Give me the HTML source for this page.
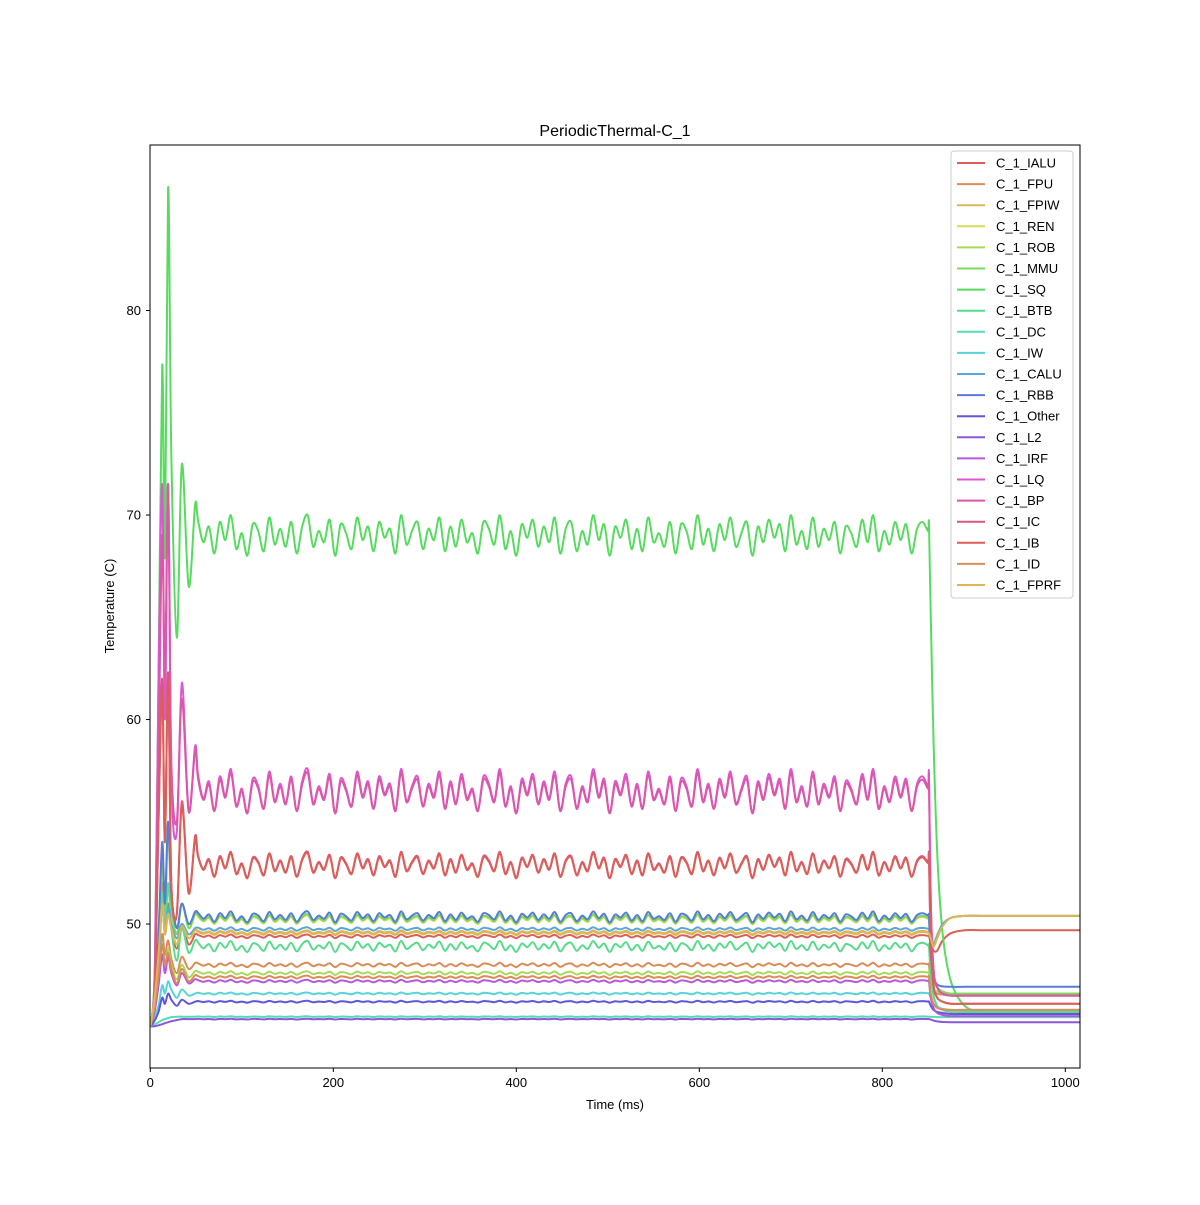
<!DOCTYPE html>
<html><head><meta charset="utf-8"><style>
body{margin:0;background:#fff}
svg text{font-family:"Liberation Sans","DejaVu Sans",sans-serif;fill:#000}
</style></head><body>
<svg id="chart" width="1200" height="1200" viewBox="0 0 1200 1200" xmlns="http://www.w3.org/2000/svg">
<rect width="1200" height="1200" fill="#fff"/>
<defs><clipPath id="pc"><rect x="150" y="145" width="930" height="923"/></clipPath></defs>
<text x="615" y="136" font-size="16" text-anchor="middle">PeriodicThermal-C_1</text>
<g id="series" clip-path="url(#pc)"></g>
<rect x="150" y="145" width="930" height="923" fill="none" stroke="#000" stroke-width="1"/>
<g id="axes"></g>
<text x="615" y="1109" font-size="13" text-anchor="middle">Time (ms)</text>
<text x="114" y="606" font-size="13" text-anchor="middle" transform="rotate(-90 114 606)">Temperature (C)</text>
<g id="legend"></g>
</svg>
<script>
const names=["C_1_IALU","C_1_FPU","C_1_FPIW","C_1_REN","C_1_ROB","C_1_MMU","C_1_SQ","C_1_BTB","C_1_DC","C_1_IW","C_1_CALU","C_1_RBB","C_1_Other","C_1_L2","C_1_IRF","C_1_LQ","C_1_BP","C_1_IC","C_1_IB","C_1_ID","C_1_FPRF"];
const xTicks=[0,200,400,600,800,1000];
const yTicks=[50,60,70,80];
const earlyT=[0,5,9,13,16,19.5,23,29,34.5,42,49];
const early=[
[45,46,48,52,49.5,51,49.8,48.8,49.9,49.0,49.5],
[45,46,47.5,49.5,48.5,49.2,48.3,47.6,48.4,47.8,48.1],
[45,46.5,48.5,51,49.5,50.5,49.8,49.0,49.9,49.3,49.7],
[45,46.5,49,53,50.5,54.5,51,49.5,51,49.8,50.5],
[45,46,47.5,49,48,48.8,48,47.3,48,47.4,47.7],
[45,46.5,49,53,50.5,55,51,49.5,51,49.8,50.5],
[45,48,62,77.3,68,86,73,64,72.5,66.5,70.5],
[45,46,48,51.5,49.5,52,49.8,48.2,49.8,48.6,49.2],
[45,45.1,45.2,45.3,45.35,45.4,45.45,45.47,45.47,45.47,45.47],
[45,45.5,46,47,46.6,47.2,46.8,46.4,46.8,46.5,46.6],
[45,46,48,51,49.5,50.8,50,49.3,50,49.5,49.8],
[45,46.5,49.5,54,51,55,51.5,49.8,51,50,50.6],
[45,45.3,45.7,46.4,46.1,46.6,46.3,46,46.3,46.1,46.2],
[45,45,45.05,45.1,45.15,45.2,45.25,45.3,45.35,45.35,45.35],
[45,45.8,47,48.5,47.6,48.4,47.6,47,47.6,47.1,47.3],
[45,48,62,71.5,60,71.5,57,54.5,61.8,55.5,58.7],
[45,47,58,69,62,71.5,58,55,61,55.5,58.5],
[45,47,55,62,54,62.3,52,50.5,56,51.5,54.3],
[45,47,55,61.5,54,62,52,50.5,55.8,51.5,54.2],
[45,46,47.5,49,48,48.6,47.8,47.1,47.8,47.2,47.5],
[45,46.5,48.5,51,49.5,50.5,49.8,49.0,49.9,49.3,49.7]];
const steady=[49.4,48.0,49.6,50.2,47.6,50.25,69.0,48.9,45.47,46.6,49.75,50.35,46.2,45.35,47.2,56.5,56.4,52.9,52.85,47.4,49.55];
const amp=[0.1,0.12,0.1,0.25,0.1,0.25,1.1,0.3,0.02,0.06,0.1,0.3,0.05,0.02,0.08,1.2,1.1,0.7,0.68,0.08,0.1];
const osc=[0.7,-0.3,0.4,-0.8,0.6,-0.2,0.9,-0.6,0.1,-0.9,
0.5,0.2,-0.7,0.8,-0.4,0.3,-0.5,0.6,-0.8,0.4,
0.9,-0.5,0.2,-0.3,0.7,-0.9,0.5,0.1,-0.6,0.8,
-0.2,0.4,-0.7,0.6,-0.1,0.3,-0.8,0.9,-0.4,0.2,
0.6,-0.6,0.3,-0.2,0.8,-0.7,0.4,-0.5,0.7,-0.3,
0.1,-0.8,0.6,0.3,-0.4,0.9,-0.6,0.2,-0.9,0.5,
-0.1,0.7,-0.5,0.4,-0.3,0.8,-0.8,0.3,0.6,-0.7,
0.2,-0.4,0.9,-0.2,0.5,-0.9,0.4,-0.1,0.7,-0.6,
0.3,-0.7,0.8,-0.3,0.1,-0.5,0.6,-0.8,0.5,0.2,
-0.6,0.9,-0.4,0.3,-0.7,0.5,-0.2,0.8,-0.5,0.1,
0.6,-0.9,0.4,-0.3,0.7,-0.1,0.5,-0.7,0.9,-0.4,
0.2,-0.6,0.8,-0.5,0.3,-0.2,0.6,-0.8,0.4,0.1,
-0.5,0.7,-0.3,0.9,-0.7,0.2,-0.4,0.6,-0.2,0.5,
-0.8,0.3,0.6,0.2];
const postT=[851,853,856,860,866,875,890,910,940,1016];
const post=[
[49.4,49.1,48.7,48.7,49.2,49.55,49.7,49.7,49.7,49.7],
[48.0,47.2,46.8,46.6,46.55,46.5,46.5,46.5,46.5,46.5],
[49.6,49.3,48.9,49.3,49.9,50.3,50.4,50.4,50.4,50.4],
[50.2,49.6,49.1,49.5,50.0,50.3,50.4,50.4,50.4,50.4],
[47.6,47.1,46.8,46.7,46.65,46.6,46.6,46.6,46.6,46.6],
[50.2,48.5,47.3,46.9,46.7,46.6,46.6,46.6,46.6,46.6],
[69.5,65,59,53.5,49.5,47.2,46.0,45.7,45.6,45.6],
[48.9,47.5,46.5,46.0,45.8,45.7,45.7,45.7,45.7,45.7],
[45.47,45.47,45.46,45.45,45.45,45.45,45.45,45.45,45.45,45.45],
[46.6,46.4,46.1,45.95,45.85,45.8,45.8,45.8,45.8,45.8],
[49.75,49.4,49.0,49.4,50.0,50.3,50.4,50.4,50.4,50.4],
[50.35,48.5,47.4,47.05,46.95,46.93,46.93,46.93,46.93,46.93],
[46.2,46.0,45.8,45.7,45.65,45.6,45.6,45.6,45.6,45.6],
[45.35,45.33,45.28,45.24,45.21,45.2,45.2,45.2,45.2,45.2],
[47.2,46.4,45.9,45.65,45.55,45.5,45.5,45.5,45.5,45.5],
[57.2,51,47.8,46.9,46.6,46.5,46.5,46.5,46.5,46.5],
[57.0,51,47.8,46.9,46.6,46.5,46.5,46.5,46.5,46.5],
[53.3,49,47,46.4,46.2,46.1,46.1,46.1,46.1,46.1],
[53.2,49,47,46.4,46.2,46.1,46.1,46.1,46.1,46.1],
[47.4,46.6,46.1,45.9,45.82,45.8,45.8,45.8,45.8,45.8],
[49.55,49.3,48.9,49.3,49.9,50.3,50.4,50.4,50.4,50.4]];
const NS="http://www.w3.org/2000/svg";
const xS=t=>150.3+t*0.915;
const yS=v=>1068-(v-42.96)*20.45;
function col(i){return "hsl("+((3.6+i*20)%360)+",65%,60%)";}
function smooth(P){
  let d='M'+P[0][0].toFixed(1)+','+P[0][1].toFixed(1);
  for(let i=0;i<P.length-1;i++){
    const p0=P[Math.max(0,i-1)],p1=P[i],p2=P[i+1],p3=P[Math.min(P.length-1,i+2)];
    const c1x=p1[0]+(p2[0]-p0[0])/6,c1y=p1[1]+(p2[1]-p0[1])/6;
    const c2x=p2[0]-(p3[0]-p1[0])/6,c2y=p2[1]-(p3[1]-p1[1])/6;
    d+='C'+c1x.toFixed(1)+','+c1y.toFixed(1)+' '+c2x.toFixed(1)+','+c2y.toFixed(1)+' '+p2[0].toFixed(1)+','+p2[1].toFixed(1);
  }
  return d;
}
const sg=document.getElementById('series');
names.forEach((n,i)=>{
  const pts=[];
  earlyT.forEach((t,k)=>pts.push([t,early[i][k]]));
  osc.forEach((o,k)=>pts.push([52+6*k,steady[i]+amp[i]*o]));
  postT.forEach((t,k)=>pts.push([t,post[i][k]]));
  const p=document.createElementNS(NS,'path');
  p.setAttribute('d',smooth(pts.map(q=>[xS(q[0]),yS(q[1])])));
  p.setAttribute('fill','none');p.setAttribute('stroke',col(i%18));p.setAttribute('stroke-width','2');p.setAttribute('stroke-linejoin','round');
  
  
  sg.appendChild(p);
});
const ax=document.getElementById('axes');
xTicks.forEach(t=>{
  const l=document.createElementNS(NS,'line');
  l.setAttribute('x1',xS(t));l.setAttribute('x2',xS(t));l.setAttribute('y1',1068);l.setAttribute('y2',1072);l.setAttribute('stroke','#000');
  
  
  ax.appendChild(l);
  const tx=document.createElementNS(NS,'text');
  tx.setAttribute('x',xS(t));tx.setAttribute('y',1087);tx.setAttribute('font-size','13');tx.setAttribute('text-anchor','middle');tx.textContent=t;
  
  
  ax.appendChild(tx);
});
yTicks.forEach(v=>{
  const l=document.createElementNS(NS,'line');
  l.setAttribute('x1',146);l.setAttribute('x2',150);l.setAttribute('y1',yS(v));l.setAttribute('y2',yS(v));l.setAttribute('stroke','#000');
  
  
  ax.appendChild(l);
  const tx=document.createElementNS(NS,'text');
  tx.setAttribute('x',141);tx.setAttribute('y',yS(v)+4.5);tx.setAttribute('font-size','13');tx.setAttribute('text-anchor','end');tx.textContent=v;
  
  
  ax.appendChild(tx);
});
const lg=document.getElementById('legend');
const fr=document.createElementNS(NS,'rect');
fr.setAttribute('x',951);fr.setAttribute('y',151);fr.setAttribute('width',122);fr.setAttribute('height',447);fr.setAttribute('rx',3);
fr.setAttribute('fill','rgba(255,255,255,0.8)');fr.setAttribute('stroke','#ccc');


lg.appendChild(fr);
names.forEach((n,i)=>{
  const y=163+i*21.1;
  const l=document.createElementNS(NS,'line');
  l.setAttribute('x1',957);l.setAttribute('x2',985);l.setAttribute('y1',y);l.setAttribute('y2',y);l.setAttribute('stroke',col(i%18));l.setAttribute('stroke-width','2');
  
  
  lg.appendChild(l);
  const tx=document.createElementNS(NS,'text');
  tx.setAttribute('x',996);tx.setAttribute('y',y+4.5);tx.setAttribute('font-size','13');tx.textContent=n;
  
  
  lg.appendChild(tx);
});
</script>
</body></html>
